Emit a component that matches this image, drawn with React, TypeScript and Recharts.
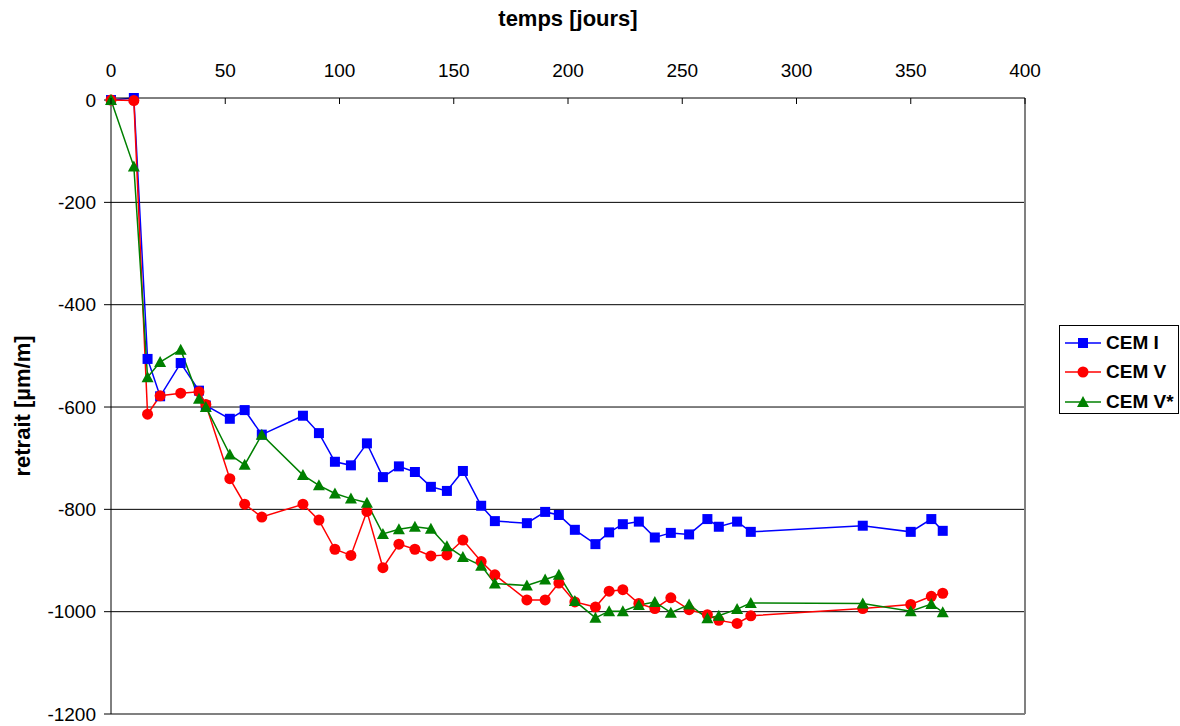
import React from 'react';
import { LineChart, Line, XAxis, YAxis, CartesianGrid, Legend, ReferenceLine } from 'recharts';

// days of measurement (shared by the three series)
const days = [
  0, 10, 16, 21.5, 30.5, 38.5, 41.5, 52, 58.5, 66, 84, 91, 98, 105, 112, 119, 126, 133, 140, 147, 154,
  162, 168, 182, 190, 196, 203, 212, 218, 224, 231, 238, 245, 253, 261, 266, 274, 280, 329, 350, 359, 364,
];

const cemI = [
  0, 4, -506, -579, -514, -568, -597, -623, -606, -654, -617, -651, -707, -714, -671, -737, -716, -727, -756, -764, -725,
  -793, -823, -827, -805, -811, -840, -868, -845, -829, -824, -855, -846, -849, -819, -834, -824, -844, -832, -844, -819, -842,
];

const cemV = [
  0, -1, -614, -578, -573, -570, -595, -740, -790, -815, -790, -821, -878, -890, -804, -914, -868, -878, -891, -889, -860,
  -902, -928, -977, -977, -944, -981, -991, -960, -957, -984, -994, -973, -996, -1006, -1017, -1023, -1008, -994, -986, -970, -964,
];

const cemVStar = [
  0, -130, -542, -512, -488, -584, -600, -693, -713, -654, -733, -753, -769, -779, -787, -848, -839, -834, -838, -872, -893,
  -910, -945, -949, -937, -928, -979, -1012, -999, -999, -987, -981, -1002, -986, -1013, -1008, -995, -983, -984, -999, -985, -1001,
];

const xTicks = [0, 50, 100, 150, 200, 250, 300, 350, 400];
const yTicks = [-1200, -1000, -800, -600, -400, -200, 0];
const gridValues = [-1000, -800, -600, -400, -200];

const data = days.map((d, i) => ({ day: d, cemI: cemI[i], cemV: cemV[i], cemVStar: cemVStar[i] }));

const FONT = '"Liberation Sans", Arial, sans-serif';

const series = [
  { key: 'cemI', name: 'CEM I', color: '#0000ff', shape: 'square' },
  { key: 'cemV', name: 'CEM V', color: '#ff0000', shape: 'circle' },
  { key: 'cemVStar', name: 'CEM V*', color: '#008000', shape: 'triangle' },
];

function marker(shape: string, cx: number, cy: number, color: string, key?: string) {
  if (shape === 'square') return <rect key={key} x={cx - 5} y={cy - 5} width={10} height={10} fill={color} />;
  if (shape === 'circle') return <circle key={key} cx={cx} cy={cy} r={5.5} fill={color} />;
  return <polygon key={key} points={`${cx},${cy - 6} ${cx + 6},${cy + 5} ${cx - 6},${cy + 5}`} fill={color} />;
}

const makeDot = (shape: string, color: string) => (props: any) => {
  const { cx, cy, index } = props;
  if (cx == null || cy == null) return <g key={`e-${index}`} />;
  return marker(shape, cx, cy, color, `${shape}-${index}`);
};

const XTick = (props: any) => {
  const { x, y, payload } = props;
  return (
    <g>
      <line x1={x} x2={x} y1={y + 21} y2={y + 27} stroke="#000" />
      <text x={x} y={y} textAnchor="middle" fontSize={19} fontFamily={FONT} fill="#000">
        {payload.value}
      </text>
    </g>
  );
};

const LegendBox = () => (
  <div
    style={{
      width: 120,
      height: 89,
      boxSizing: 'border-box',
      border: '1px solid #000',
      background: '#fff',
      paddingTop: 2,
    }}
  >
    {series.map((s) => (
      <div key={s.key} style={{ display: 'flex', alignItems: 'center', height: 29.5 }}>
        <svg width={46} height={20} style={{ display: 'block' }}>
          <line x1={5} x2={41} y1={10} y2={10} stroke={s.color} strokeWidth={1.5} />
          {marker(s.shape, 23, 10, s.color)}
        </svg>
        <span style={{ fontFamily: FONT, fontWeight: 'bold', fontSize: 19, color: '#000' }}>{s.name}</span>
      </div>
    ))}
  </div>
);

const YLabel = (props: any) => {
  const { viewBox } = props;
  const cx = viewBox.x + 22;
  const cy = viewBox.y + viewBox.height / 2;
  return (
    <text
      transform={`translate(${cx},${cy}) rotate(-90)`}
      textAnchor="middle"
      dominantBaseline="central"
      fontFamily={FONT}
      fontWeight="bold"
      fontSize={22}
      fill="#000"
    >
      retrait [µm/m]
    </text>
  );
};

const XLabel = (props: any) => {
  const { viewBox } = props;
  return (
    <text
      x={viewBox.x + viewBox.width / 2}
      y={26}
      textAnchor="middle"
      fontFamily={FONT}
      fontWeight="bold"
      fontSize={22}
      fill="#000"
    >
      temps [jours]
    </text>
  );
};

export default function App() {
  return (
    <div style={{ position: 'absolute', left: 0, top: 0, width: 1180, height: 726, background: '#fff' }}>
      <LineChart width={1180} height={726} data={data} margin={{ top: 0, right: 35, bottom: 12, left: 0 }}>
        <CartesianGrid vertical={false} horizontalValues={gridValues} stroke="#000" />
        <XAxis
          dataKey="day"
          type="number"
          orientation="top"
          domain={[0, 400]}
          ticks={xTicks}
          interval={0}
          height={98}
          tickSize={0}
          tickMargin={21}
          tickLine={false}
          tick={<XTick />}
          axisLine={{ stroke: '#000' }}
          label={{ content: <XLabel /> }}
        />
        <YAxis
          type="number"
          domain={[-1200, 0]}
          ticks={yTicks}
          interval={0}
          width={111}
          tickSize={7}
          tickMargin={8}
          tick={{ fontSize: 19, fontFamily: FONT, fill: '#000' }}
          tickLine={{ stroke: '#000' }}
          axisLine={{ stroke: '#000' }}
          label={{ content: <YLabel /> }}
        />
        <ReferenceLine y={-1200} stroke="#808080" strokeWidth={2} />
        <ReferenceLine x={400} stroke="#808080" strokeWidth={2} />
        {series.map((s) => (
          <Line
            key={s.key}
            type="linear"
            dataKey={s.key}
            name={s.name}
            stroke={s.color}
            strokeWidth={1.5}
            dot={makeDot(s.shape, s.color)}
            activeDot={false}
            isAnimationActive={false}
          />
        ))}
        <Legend
          layout="vertical"
          align="right"
          verticalAlign="middle"
          content={<LegendBox />}
          wrapperStyle={{ left: 1059, top: 325, right: 'auto', bottom: 'auto', width: 120, height: 89 }}
        />
      </LineChart>
    </div>
  );
}
